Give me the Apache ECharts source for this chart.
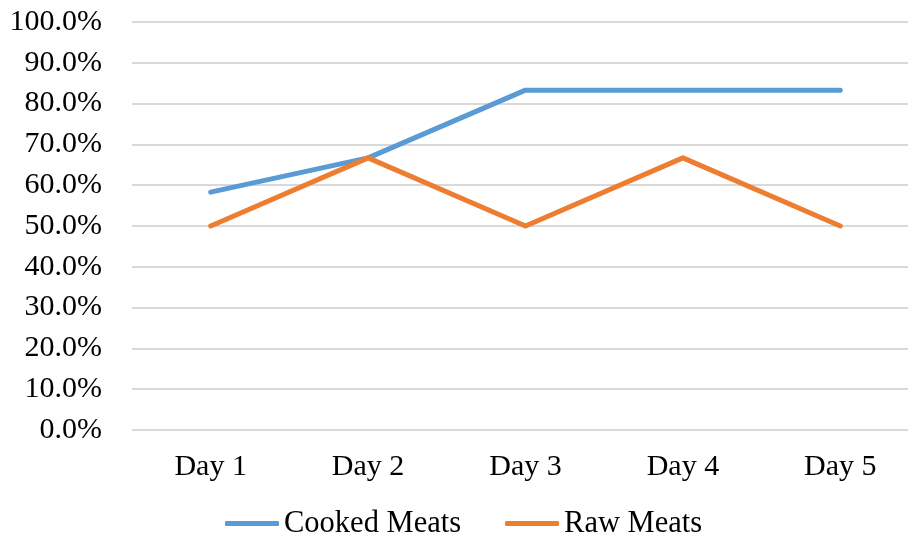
<!DOCTYPE html>
<html>
<head>
<meta charset="utf-8">
<script src="https://cdn.jsdelivr.net/npm/echarts@6/dist/echarts.min.js"></script>
<style>
  html, body { margin: 0; padding: 0; background: #fff; }
  #chart { width: 908px; height: 540px; }
</style>
</head>
<body>
<div id="chart"></div>
<script>
// Share of samples per day, in percent
const days = ['Day 1', 'Day 2', 'Day 3', 'Day 4', 'Day 5'];
const cookedMeats = [58.3, 66.7, 83.3, 83.3, 83.3];
const rawMeats = [50.0, 66.7, 50.0, 66.7, 50.0];

const FONT = '"Liberation Serif", "Times New Roman", serif';
const chart = echarts.init(document.getElementById('chart'), null, { renderer: 'canvas' });

function lineSeries(name, data, color) {
  return {
    name: name,
    type: 'line',
    data: data,
    symbol: 'none',
    lineStyle: { width: 5, color: color, cap: 'round', join: 'round' },
    itemStyle: { color: color },
    emphasis: { disabled: true },
    animation: false
  };
}

chart.setOption({
  animation: false,
  grid: {
    left: 132, width: 787, top: 22, height: 408,
    containLabel: false, outerBoundsMode: 'none'
  },
  xAxis: {
    type: 'category',
    data: days,
    boundaryGap: true,
    axisLine: { show: false },
    axisTick: { show: false },
    axisLabel: { color: '#000', fontFamily: FONT, fontSize: 30, margin: 22 }
  },
  yAxis: {
    type: 'value',
    min: 0,
    max: 100,
    interval: 10,
    axisLine: { show: false },
    axisTick: { show: false },
    splitLine: { lineStyle: { color: '#d9d9d9', width: 2 } },
    axisLabel: {
      color: '#000', fontFamily: FONT, fontSize: 30, margin: 30,
      formatter: v => v.toFixed(1) + '%'
    }
  },
  legend: {
    bottom: -4,
    left: 220,
    itemWidth: 54,
    itemHeight: 5,
    itemGap: 44,
    icon: 'roundRect',
    textStyle: { color: '#000', fontFamily: FONT, fontSize: 30.5 },
    data: ['Cooked Meats', 'Raw Meats']
  },
  series: [
    lineSeries('Cooked Meats', cookedMeats, '#5B9BD5'),
    lineSeries('Raw Meats', rawMeats, '#ED7D31')
  ]
});
</script>
</body>
</html>
